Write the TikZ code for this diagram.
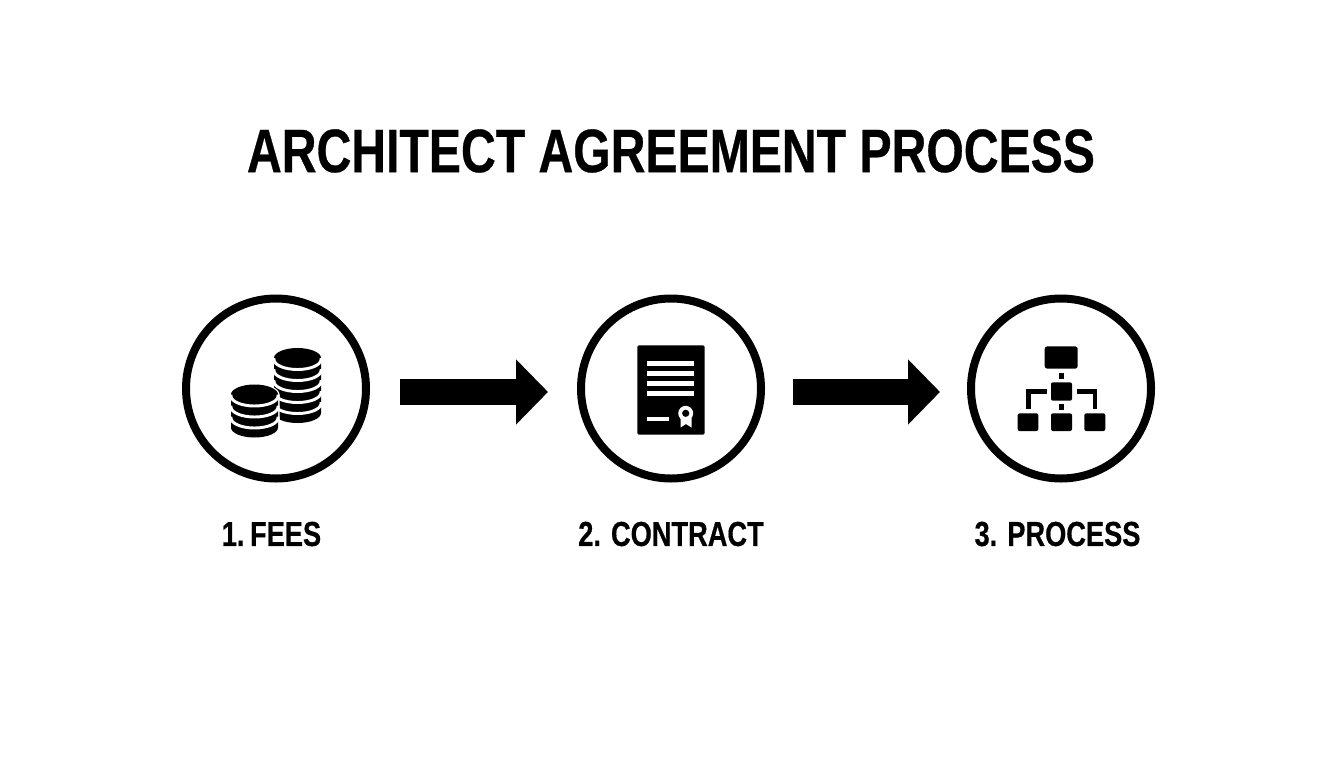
\documentclass[tikz,border=0pt]{standalone}
\usepackage{fontspec}
\setmainfont{Liberation Sans}
\newfontfamily\condbold[FakeStretch=0.785,FakeBold=0.5]{Liberation Sans Bold}
\usetikzlibrary{arrows.meta}
\tikzset{
  x=0.75pt,y=-0.75pt,
  stepcircle/.style={circle,draw=black,line width=6pt,minimum size=135pt,inner sep=0pt,fill=white},
  blockarrow/.style={draw=black,line width=19.5pt,-{Triangle[length=24pt,width=47.5pt]}},
  titletext/.style={font=\condbold\fontsize{46}{46}\selectfont,text=black,inner sep=0pt},
  steptext/.style={font=\condbold\fontsize{26}{26}\selectfont,text=black,inner sep=0pt},
  icon/.style={fill=black,draw=none},
  iconrule/.style={fill=white,draw=none},
  orgline/.style={draw=black,line width=3.5pt,line cap=butt,line join=miter},
}
\newcommand{\coinstack}[3]{% cx, cy of top coin, last separator index
  \fill[black] (#1-23.5,#2) -- (#1-23.5,#2+#3*11+11) arc[start angle=180,end angle=0,x radius=23.5,y radius=10] -- (#1+23.5,#2) arc[start angle=0,end angle=-180,x radius=23.5,y radius=10] -- cycle;
  \foreach \k in {0,...,#3}{
    \draw[white,line width=2.2pt] (#1-25,#2+\k*11+1.5) -- (#1-23.5,#2+\k*11+1.5) arc[start angle=180,end angle=0,x radius=23.5,y radius=10] -- (#1+25,#2+\k*11+1.5);
  }
}
\begin{document}
\begin{tikzpicture}
\useasboundingbox[fill=white] (0,0) rectangle (1344,768);
\node[titletext] (title) at (671,151) {ARCHITECT AGREEMENT PROCESS};
\node[stepcircle] (c1) at (276,388.5) {};
\node[stepcircle] (c2) at (671,388.5) {};
\node[stepcircle] (c3) at (1061,388.5) {};
\draw[blockarrow,shorten <=22.5pt,shorten >=21.75pt] ([yshift=-2.6pt]c1.east) -- ([yshift=-2.6pt]c2.west);
\draw[blockarrow,shorten <=21pt,shorten >=20.25pt] ([yshift=-2.6pt]c2.east) -- ([yshift=-2.6pt]c3.west);
\node[steptext] (l1) at (271.5,534) {1.\kern-1.5pt\ FEES};
\node[steptext] (l2) at (671,534) {2. CONTRACT};
\node[steptext] (l3) at (1057.5,534) {3. PROCESS};
% coins
\coinstack{297.5}{358}{4}
\draw[white,line width=2.4pt,fill=white] (231,395) -- (231,428) arc[start angle=180,end angle=0,x radius=23.5,y radius=10] -- (278,395) arc[start angle=0,end angle=-180,x radius=23.5,y radius=10] -- cycle;
\coinstack{254.5}{394.5}{2}
% document
\fill[icon,rounded corners=1.5pt] (637.3,345.3) rectangle (704.7,434.7);
\foreach \yy in {360.7,371,381.2,391.3}{\fill[iconrule] (647.3,\yy) rectangle (694.3,\yy+5);}
\fill[iconrule] (647.3,416.7) rectangle (668.7,421);
\fill[iconrule] (680.7,418) -- (680.7,427.5) -- (685.9,424) -- (691.5,427.5) -- (691.5,418) -- cycle;
\fill[iconrule] (685.7,413.3) circle[radius=5.6pt];
\fill[black] (685.7,413.3) circle[radius=2.7pt];
% organisation chart
\fill[icon,rounded corners=2pt] (1044.7,346.3) rectangle (1077.7,368.7);
\fill[icon] (1059,372.7) rectangle (1063.7,379);
\fill[icon,rounded corners=1.5pt] (1051,382.3) rectangle (1072,400.7);
\fill[icon] (1059,404.3) rectangle (1063.7,410);
\fill[icon,rounded corners=1.5pt] (1017.7,413.3) rectangle (1038.3,431);
\fill[icon,rounded corners=1.5pt] (1051,413.3) rectangle (1072,431);
\fill[icon,rounded corners=1.5pt] (1084.3,413.3) rectangle (1105.3,431);
\draw[orgline] (1046.7,391.6) -- (1028.2,391.6) -- (1028.2,409.3);
\draw[orgline] (1076.7,391.6) -- (1095,391.6) -- (1095,409.3);
\end{tikzpicture}
\end{document}
